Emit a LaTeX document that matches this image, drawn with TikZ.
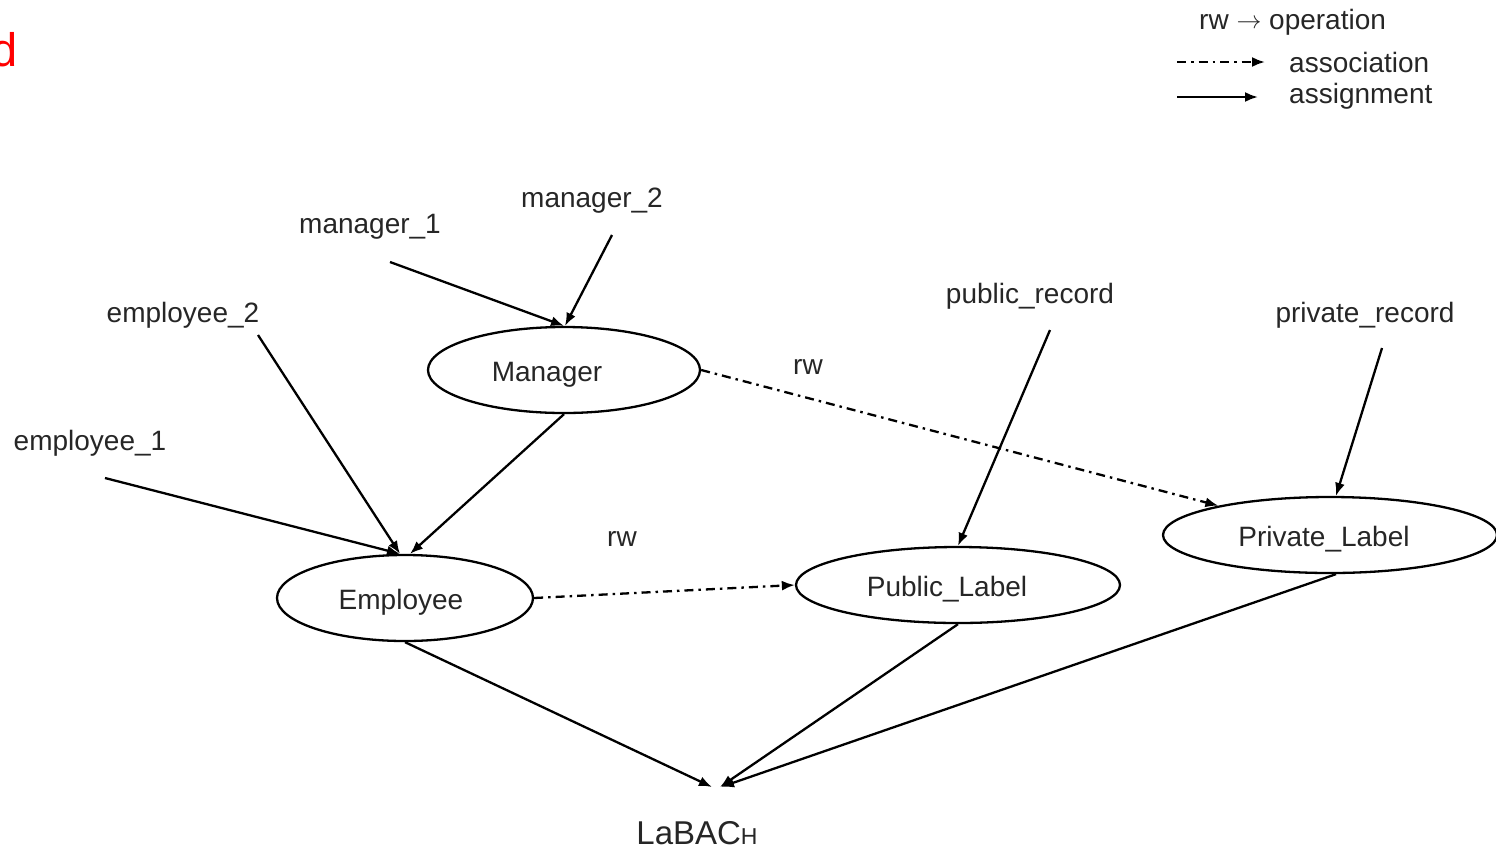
\documentclass[tikz,border=0pt]{standalone}
\usepackage{fontspec}
\setmainfont{Liberation Sans}
\usetikzlibrary{arrows.meta,shapes.geometric}
\definecolor{ink}{HTML}{262626}
\definecolor{mark}{HTML}{FF0000}
% text set inside an ellipse, moved left by #1
\newcommand{\inside}[2]{#2\hspace*{#1pt}}
\begin{document}
\begin{tikzpicture}[x=1pt,y=-1pt,
  every node/.style={font=\fontsize{28}{34}\selectfont, text=ink},
  state/.style={draw=black, line width=2.3pt, ellipse, inner sep=0pt, text height=23pt, text depth=0pt},
  tag/.style={inner sep=0pt},
  assign/.style={draw=black, line width=2.3pt, -{Latex[length=13pt,width=10pt]}},
  assoc/.style={assign, dash pattern=on 9pt off 5pt on 2.5pt off 5pt},
]
\useasboundingbox (0,0) rectangle (1496,852);

% corner mark
\node[tag, anchor=base east, text=mark, font=\fontsize{47}{52}\selectfont] (corner) at (18,66) {d};

% legend
\node[tag, anchor=west] (lgop) at (1199,22) {rw \raisebox{1pt}{$\rightarrow$} operation};
\node[tag, anchor=west] (lgas) at (1289,62) {association};
\node[tag, anchor=west] (lgag) at (1289,96) {assignment};
\coordinate (lgasS) at (1177,62);
\coordinate (lgagS) at (1177,97);
\draw[assoc] (lgasS) -- ([xshift=-24pt,yshift=0pt]lgas.west);
\draw[assign] (lgagS) -- ([xshift=-31pt,yshift=-1pt]lgag.west);

% roles and labels
\node[state, minimum width=272pt, minimum height=86pt] (mgr) at (564,370) {\inside{34}{Manager}};
\node[state, minimum width=256pt, minimum height=86pt] (emp) at (405,598) {\inside{8}{Employee}};
\node[state, minimum width=324pt, minimum height=76pt] (pub) at (958,585) {\inside{22}{Public\_Label}};
\node[state, minimum width=334pt, minimum height=76pt] (priv) at (1330,535) {\inside{12}{Private\_Label}};

% users and objects
\node[tag] (m1) at (370,227) {manager\_1};
\node[tag] (m2) at (592,201) {manager\_2};
\node[tag] (e2) at (183,315) {employee\_2};
\node[tag] (e1) at (90,443) {employee\_1};
\node[tag] (pr) at (1030,296) {public\_record};
\node[tag] (vr) at (1365,315) {private\_record};

% operation labels
\node[tag] (rw1) at (808,367) {rw};
\node[tag] (rw2) at (622,539) {rw};

% policy sink
\node[tag, font=\fontsize{33}{38}\selectfont] (lab) at (697,833) {LaBAC\fontsize{23}{26}\selectfont H};
\coordinate (sink) at (717,787);

% assignments
\draw[assign] ([xshift=20pt,yshift=-35pt]m1.center) -- (mgr.north);
\draw[assign] ([xshift=20pt,yshift=-34pt]m2.center) -- ([xshift=1pt]mgr.north);
\draw[assign] ([xshift=75pt,yshift=-20pt]e2.center) -- ([xshift=-5pt]emp.north);
\draw[assign] ([xshift=15pt,yshift=-35pt]e1.center) -- ([xshift=-5pt]emp.north);
\draw[assign] (mgr.south) -- ([xshift=5pt]emp.north);
\draw[assign] ([xshift=20pt,yshift=-34pt]pr.center) -- (pub.north);
\draw[assign] ([xshift=17pt,yshift=-33pt]vr.center) -- ([xshift=6pt]priv.north);
\draw[assign] (emp.south) -- ([xshift=-5pt]sink);
\draw[assign] (pub.south) -- ([xshift=3pt]sink);
\draw[assign] ([xshift=6pt]priv.south) -- ([xshift=4pt]sink);

% associations
\draw[assoc] (mgr.east) -- (priv);
\draw[assoc] (emp.east) -- (pub.west);
\end{tikzpicture}
\end{document}
